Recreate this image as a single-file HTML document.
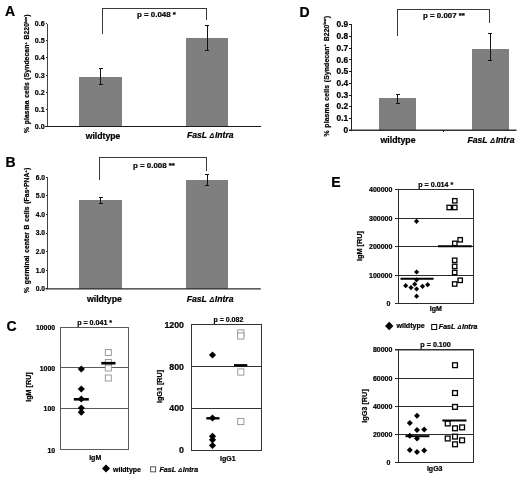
<!DOCTYPE html>
<html><head><meta charset="utf-8"><title>Figure</title>
<style>
html,body{margin:0;padding:0;background:#fff;}
text{stroke:#000;stroke-width:0.22px;}
svg{display:block;font-family:"Liberation Sans", Arial, sans-serif;will-change:transform;opacity:0.999;}
</style></head><body>
<svg width="520" height="477" viewBox="0 0 520 477">
<rect x="0" y="0" width="520" height="477" fill="#fff"/>
<text x="5" y="15.5" text-anchor="start" style="font-size:14px;font-weight:bold;" fill="#000">A</text>
<rect x="79" y="76.8" width="43" height="49.5" fill="#7f7f7f" stroke="none" stroke-width="1" shape-rendering="crispEdges"/>
<rect x="185.5" y="38" width="42.2" height="88.3" fill="#7f7f7f" stroke="none" stroke-width="1" shape-rendering="crispEdges"/>
<line x1="100.8" y1="68" x2="100.8" y2="84.2" stroke="#111" stroke-width="1" shape-rendering="crispEdges"/>
<line x1="98.8" y1="68" x2="102.8" y2="68" stroke="#111" stroke-width="1" shape-rendering="crispEdges"/>
<line x1="98.8" y1="84.2" x2="102.8" y2="84.2" stroke="#111" stroke-width="1" shape-rendering="crispEdges"/>
<line x1="207" y1="25" x2="207" y2="50.5" stroke="#111" stroke-width="1" shape-rendering="crispEdges"/>
<line x1="205" y1="25" x2="209" y2="25" stroke="#111" stroke-width="1" shape-rendering="crispEdges"/>
<line x1="205" y1="50.5" x2="209" y2="50.5" stroke="#111" stroke-width="1" shape-rendering="crispEdges"/>
<line x1="47.3" y1="23.5" x2="47.3" y2="126.8" stroke="#444" stroke-width="1" shape-rendering="crispEdges"/>
<line x1="45" y1="126.3" x2="260.8" y2="126.3" stroke="#1a1a1a" stroke-width="1" shape-rendering="crispEdges"/>
<line x1="45.6" y1="126.3" x2="47.3" y2="126.3" stroke="#1a1a1a" stroke-width="1" shape-rendering="crispEdges"/>
<text x="44.7" y="128.8" text-anchor="end" style="font-size:7.1px;font-weight:bold;" fill="#000">0.0</text>
<line x1="45.6" y1="109.19999999999999" x2="47.3" y2="109.19999999999999" stroke="#1a1a1a" stroke-width="1" shape-rendering="crispEdges"/>
<text x="44.7" y="111.69999999999999" text-anchor="end" style="font-size:7.1px;font-weight:bold;" fill="#000">0.1</text>
<line x1="45.6" y1="92.1" x2="47.3" y2="92.1" stroke="#1a1a1a" stroke-width="1" shape-rendering="crispEdges"/>
<text x="44.7" y="94.6" text-anchor="end" style="font-size:7.1px;font-weight:bold;" fill="#000">0.2</text>
<line x1="45.6" y1="75.0" x2="47.3" y2="75.0" stroke="#1a1a1a" stroke-width="1" shape-rendering="crispEdges"/>
<text x="44.7" y="77.5" text-anchor="end" style="font-size:7.1px;font-weight:bold;" fill="#000">0.3</text>
<line x1="45.6" y1="57.89999999999999" x2="47.3" y2="57.89999999999999" stroke="#1a1a1a" stroke-width="1" shape-rendering="crispEdges"/>
<text x="44.7" y="60.39999999999999" text-anchor="end" style="font-size:7.1px;font-weight:bold;" fill="#000">0.4</text>
<line x1="45.6" y1="40.8" x2="47.3" y2="40.8" stroke="#1a1a1a" stroke-width="1" shape-rendering="crispEdges"/>
<text x="44.7" y="43.3" text-anchor="end" style="font-size:7.1px;font-weight:bold;" fill="#000">0.5</text>
<line x1="45.6" y1="23.69999999999999" x2="47.3" y2="23.69999999999999" stroke="#1a1a1a" stroke-width="1" shape-rendering="crispEdges"/>
<text x="44.7" y="26.19999999999999" text-anchor="end" style="font-size:7.1px;font-weight:bold;" fill="#000">0.6</text>
<polyline points="102.3,33.5 102.3,8 206.3,8 206.3,20" fill="none" stroke="#3a3a3a" stroke-width="1" shape-rendering="crispEdges"/>
<text x="137" y="17" text-anchor="start" style="font-size:7.9px;font-weight:bold;" fill="#000">p = 0.048 *</text>
<text x="85.7" y="139" text-anchor="start" style="font-size:8.7px;font-weight:bold;" fill="#000">wildtype</text>
<text x="187" y="138.4" text-anchor="start" style="font-size:8.6px;font-weight:bold;font-style:italic;" fill="#000">FasL <tspan style="font-size:0.82em;stroke-width:0.1px" dx="0.3">Δ</tspan><tspan dx="0.6">Intra</tspan></text>
<text x="29" y="133" transform="rotate(-90 29 133)" style="font-size:6.7px;font-weight:bold;letter-spacing:0.14px;word-spacing:0.6px" fill="#000">% plasma cells (Syndecan<tspan dy="-2.2" style="font-size:4px">+</tspan><tspan dy="2.2"> B220</tspan><tspan dy="-2.4" style="font-size:3.4px">low</tspan><tspan dy="2.4">)</tspan></text>
<text x="5.5" y="167.3" text-anchor="start" style="font-size:14px;font-weight:bold;" fill="#000">B</text>
<rect x="79" y="200.4" width="43" height="88.49999999999997" fill="#7f7f7f" stroke="none" stroke-width="1" shape-rendering="crispEdges"/>
<rect x="185.5" y="180" width="42.2" height="108.89999999999998" fill="#7f7f7f" stroke="none" stroke-width="1" shape-rendering="crispEdges"/>
<line x1="100.8" y1="197" x2="100.8" y2="203.8" stroke="#111" stroke-width="1" shape-rendering="crispEdges"/>
<line x1="98.8" y1="197" x2="102.8" y2="197" stroke="#111" stroke-width="1" shape-rendering="crispEdges"/>
<line x1="98.8" y1="203.8" x2="102.8" y2="203.8" stroke="#111" stroke-width="1" shape-rendering="crispEdges"/>
<line x1="207" y1="174.5" x2="207" y2="185" stroke="#111" stroke-width="1" shape-rendering="crispEdges"/>
<line x1="205" y1="174.5" x2="209" y2="174.5" stroke="#111" stroke-width="1" shape-rendering="crispEdges"/>
<line x1="205" y1="185" x2="209" y2="185" stroke="#111" stroke-width="1" shape-rendering="crispEdges"/>
<line x1="47.3" y1="176.5" x2="47.3" y2="289.4" stroke="#444" stroke-width="1" shape-rendering="crispEdges"/>
<line x1="45.5" y1="288.9" x2="260.8" y2="288.9" stroke="#2a2a2a" stroke-width="1.4"/>
<line x1="45.6" y1="288.9" x2="47.3" y2="288.9" stroke="#1a1a1a" stroke-width="1" shape-rendering="crispEdges"/>
<text x="45" y="291.29999999999995" text-anchor="end" style="font-size:6.7px;font-weight:bold;" fill="#000">0.0</text>
<line x1="45.6" y1="270.27" x2="47.3" y2="270.27" stroke="#1a1a1a" stroke-width="1" shape-rendering="crispEdges"/>
<text x="45" y="272.66999999999996" text-anchor="end" style="font-size:6.7px;font-weight:bold;" fill="#000">1.0</text>
<line x1="45.6" y1="251.64" x2="47.3" y2="251.64" stroke="#1a1a1a" stroke-width="1" shape-rendering="crispEdges"/>
<text x="45" y="254.04" text-anchor="end" style="font-size:6.7px;font-weight:bold;" fill="#000">2.0</text>
<line x1="45.6" y1="233.01" x2="47.3" y2="233.01" stroke="#1a1a1a" stroke-width="1" shape-rendering="crispEdges"/>
<text x="45" y="235.41" text-anchor="end" style="font-size:6.7px;font-weight:bold;" fill="#000">3.0</text>
<line x1="45.6" y1="214.38" x2="47.3" y2="214.38" stroke="#1a1a1a" stroke-width="1" shape-rendering="crispEdges"/>
<text x="45" y="216.78" text-anchor="end" style="font-size:6.7px;font-weight:bold;" fill="#000">4.0</text>
<line x1="45.6" y1="195.75" x2="47.3" y2="195.75" stroke="#1a1a1a" stroke-width="1" shape-rendering="crispEdges"/>
<text x="45" y="198.15" text-anchor="end" style="font-size:6.7px;font-weight:bold;" fill="#000">5.0</text>
<line x1="45.6" y1="177.11999999999998" x2="47.3" y2="177.11999999999998" stroke="#1a1a1a" stroke-width="1" shape-rendering="crispEdges"/>
<text x="45" y="179.51999999999998" text-anchor="end" style="font-size:6.7px;font-weight:bold;" fill="#000">6.0</text>
<polyline points="99.5,179.5 99.5,157.5 206.3,157.5 206.3,170.5" fill="none" stroke="#3a3a3a" stroke-width="1" shape-rendering="crispEdges"/>
<text x="133" y="167.5" text-anchor="start" style="font-size:7.9px;font-weight:bold;" fill="#000">p = 0.008 **</text>
<text x="86.9" y="302" text-anchor="start" style="font-size:8.75px;font-weight:bold;" fill="#000">wildtype</text>
<text x="186.7" y="301.9" text-anchor="start" style="font-size:8.65px;font-weight:bold;font-style:italic;" fill="#000">FasL <tspan style="font-size:0.82em;stroke-width:0.1px" dx="0.3">Δ</tspan><tspan dx="0.6">Intra</tspan></text>
<text x="29" y="293" transform="rotate(-90 29 293)" style="font-size:6.7px;font-weight:bold;letter-spacing:0.13px;word-spacing:0.6px" fill="#000">% germinal center B cells (Fas<tspan dy="-2.2" style="font-size:4px">+</tspan><tspan dy="2.2">PNA</tspan><tspan dy="-2.2" style="font-size:4px">+</tspan><tspan dy="2.2">)</tspan></text>
<text x="6.5" y="331.3" text-anchor="start" style="font-size:14px;font-weight:bold;" fill="#000">C</text>
<rect x="60.8" y="327.4" width="68.00000000000001" height="122.30000000000001" fill="none" stroke="#5a5a5a" stroke-width="1" shape-rendering="crispEdges"/>
<line x1="60.8" y1="408.4" x2="128.8" y2="408.4" stroke="#5a5a5a" stroke-width="1" shape-rendering="crispEdges"/>
<line x1="60.8" y1="367.7" x2="128.8" y2="367.7" stroke="#5a5a5a" stroke-width="1" shape-rendering="crispEdges"/>
<text x="55.1" y="453.0" text-anchor="end" style="font-size:6.9px;font-weight:bold;" fill="#000">10</text>
<text x="55.1" y="411.29999999999995" text-anchor="end" style="font-size:6.9px;font-weight:bold;" fill="#000">100</text>
<text x="55.1" y="371.09999999999997" text-anchor="end" style="font-size:6.9px;font-weight:bold;" fill="#000">1000</text>
<text x="55.1" y="330.09999999999997" text-anchor="end" style="font-size:6.9px;font-weight:bold;" fill="#000">10000</text>
<text x="77.2" y="324.6" text-anchor="start" style="font-size:7.1px;font-weight:bold;" fill="#000">p = 0.041 *</text>
<text x="95.2" y="460.1" text-anchor="middle" style="font-size:7px;font-weight:bold;" fill="#000">IgM</text>
<text x="31.3" y="387" text-anchor="middle" style="font-size:7.2px;font-weight:bold;" fill="#000" transform="rotate(-90 31.3 387)">IgM [RU]</text>
<rect x="105.3" y="349.5" width="6" height="6" fill="#fff" stroke="#909090" stroke-width="0.9"/>
<rect x="105.3" y="359.5" width="6" height="6" fill="#fff" stroke="#909090" stroke-width="0.9"/>
<rect x="105.3" y="365.0" width="6" height="6" fill="#fff" stroke="#909090" stroke-width="0.9"/>
<rect x="105.3" y="375.0" width="6" height="6" fill="#fff" stroke="#909090" stroke-width="0.9"/>
<polygon points="81.3,365.4 84.89999999999999,369 81.3,372.6 77.7,369" fill="#000"/>
<polygon points="81.3,385.4 84.89999999999999,389 81.3,392.6 77.7,389" fill="#000"/>
<polygon points="81.3,395.4 84.89999999999999,399 81.3,402.6 77.7,399" fill="#000"/>
<polygon points="81.3,404.4 84.89999999999999,408 81.3,411.6 77.7,408" fill="#000"/>
<polygon points="81.3,408.59999999999997 84.89999999999999,412.2 81.3,415.8 77.7,412.2" fill="#000"/>
<line x1="73.8" y1="399.3" x2="88.8" y2="399.3" stroke="#000" stroke-width="2.6"/>
<line x1="101.3" y1="363.2" x2="115.5" y2="363.2" stroke="#000" stroke-width="2.6"/>
<rect x="191.7" y="324.5" width="69.60000000000002" height="125.5" fill="none" stroke="#333" stroke-width="1" shape-rendering="crispEdges"/>
<line x1="191.7" y1="408.1666666666667" x2="261.3" y2="408.1666666666667" stroke="#333" stroke-width="1" shape-rendering="crispEdges"/>
<line x1="191.7" y1="366.3333333333333" x2="261.3" y2="366.3333333333333" stroke="#333" stroke-width="1" shape-rendering="crispEdges"/>
<text x="184" y="453.2" text-anchor="end" style="font-size:8.8px;font-weight:bold;" fill="#000">0</text>
<text x="184" y="411.3666666666667" text-anchor="end" style="font-size:8.8px;font-weight:bold;" fill="#000">400</text>
<text x="184" y="369.5333333333333" text-anchor="end" style="font-size:8.8px;font-weight:bold;" fill="#000">800</text>
<text x="184" y="327.7" text-anchor="end" style="font-size:8.8px;font-weight:bold;" fill="#000">1200</text>
<text x="213.5" y="322.1" text-anchor="start" style="font-size:7.0px;font-weight:bold;" fill="#000">p = 0.082</text>
<text x="227.8" y="460.5" text-anchor="middle" style="font-size:7px;font-weight:bold;" fill="#000">IgG1</text>
<text x="161.5" y="386.5" text-anchor="middle" style="font-size:7.2px;font-weight:bold;" fill="#000" transform="rotate(-90 161.5 386.5)">IgG1 [RU]</text>
<rect x="237.70000000000002" y="329.9" width="6.2" height="6.2" fill="#fff" stroke="#909090" stroke-width="0.9"/>
<rect x="237.70000000000002" y="332.9" width="6.2" height="6.2" fill="#fff" stroke="#909090" stroke-width="0.9"/>
<rect x="237.70000000000002" y="368.9" width="6.2" height="6.2" fill="#fff" stroke="#909090" stroke-width="0.9"/>
<rect x="237.70000000000002" y="418.4" width="6.2" height="6.2" fill="#fff" stroke="#909090" stroke-width="0.9"/>
<polygon points="212.5,351.4 216.1,355 212.5,358.6 208.9,355" fill="#000"/>
<polygon points="212.5,414.4 216.1,418 212.5,421.6 208.9,418" fill="#000"/>
<polygon points="212.5,432.7 216.1,436.3 212.5,439.90000000000003 208.9,436.3" fill="#000"/>
<polygon points="212.5,436.2 216.1,439.8 212.5,443.40000000000003 208.9,439.8" fill="#000"/>
<polygon points="212.5,441.9 216.1,445.5 212.5,449.1 208.9,445.5" fill="#000"/>
<line x1="206.3" y1="418.3" x2="219.5" y2="418.3" stroke="#000" stroke-width="2.4"/>
<line x1="234" y1="365.3" x2="247.3" y2="365.3" stroke="#000" stroke-width="2.4"/>
<polygon points="106,464.5 110,468.5 106,472.5 102,468.5" fill="#000"/>
<text x="113" y="471.7" text-anchor="start" style="font-size:7.0px;font-weight:bold;" fill="#000">wildtype</text>
<rect x="150.6" y="466.8" width="5" height="5" fill="#fff" stroke="#555" stroke-width="1"/>
<text x="159.5" y="472.4" text-anchor="start" style="font-size:7.1px;font-weight:bold;font-style:italic;" fill="#000">FasL <tspan style="font-size:0.82em;stroke-width:0.1px" dx="0.3">Δ</tspan><tspan dx="0.6">Intra</tspan></text>
<text x="299.5" y="16.5" text-anchor="start" style="font-size:14px;font-weight:bold;" fill="#000">D</text>
<rect x="379" y="98.2" width="36.8" height="31.999999999999986" fill="#7f7f7f" stroke="none" stroke-width="1" shape-rendering="crispEdges"/>
<rect x="472" y="48.9" width="36.5" height="81.29999999999998" fill="#7f7f7f" stroke="none" stroke-width="1" shape-rendering="crispEdges"/>
<line x1="397.5" y1="94.2" x2="397.5" y2="103.3" stroke="#111" stroke-width="1" shape-rendering="crispEdges"/>
<line x1="395.5" y1="94.2" x2="399.5" y2="94.2" stroke="#111" stroke-width="1" shape-rendering="crispEdges"/>
<line x1="395.5" y1="103.3" x2="399.5" y2="103.3" stroke="#111" stroke-width="1" shape-rendering="crispEdges"/>
<line x1="490.2" y1="33.5" x2="490.2" y2="60.5" stroke="#111" stroke-width="1" shape-rendering="crispEdges"/>
<line x1="488.2" y1="33.5" x2="492.2" y2="33.5" stroke="#111" stroke-width="1" shape-rendering="crispEdges"/>
<line x1="488.2" y1="60.5" x2="492.2" y2="60.5" stroke="#111" stroke-width="1" shape-rendering="crispEdges"/>
<line x1="351.5" y1="24" x2="351.5" y2="130.89999999999998" stroke="#222" stroke-width="1.2" shape-rendering="crispEdges"/>
<line x1="349" y1="130.2" x2="516.5" y2="130.2" stroke="#333" stroke-width="1.5"/>
<line x1="443.8" y1="130.2" x2="443.8" y2="132.2" stroke="#1a1a1a" stroke-width="1" shape-rendering="crispEdges"/>
<line x1="349" y1="130.2" x2="351.5" y2="130.2" stroke="#1a1a1a" stroke-width="1" shape-rendering="crispEdges"/>
<text x="348.2" y="132.89999999999998" text-anchor="end" style="font-size:8.4px;font-weight:bold;" fill="#000">0</text>
<line x1="349" y1="118.46999999999998" x2="351.5" y2="118.46999999999998" stroke="#1a1a1a" stroke-width="1" shape-rendering="crispEdges"/>
<text x="348.2" y="121.16999999999999" text-anchor="end" style="font-size:8.4px;font-weight:bold;" fill="#000">0.1</text>
<line x1="349" y1="106.73999999999998" x2="351.5" y2="106.73999999999998" stroke="#1a1a1a" stroke-width="1" shape-rendering="crispEdges"/>
<text x="348.2" y="109.43999999999998" text-anchor="end" style="font-size:8.4px;font-weight:bold;" fill="#000">0.2</text>
<line x1="349" y1="95.00999999999999" x2="351.5" y2="95.00999999999999" stroke="#1a1a1a" stroke-width="1" shape-rendering="crispEdges"/>
<text x="348.2" y="97.71" text-anchor="end" style="font-size:8.4px;font-weight:bold;" fill="#000">0.3</text>
<line x1="349" y1="83.27999999999999" x2="351.5" y2="83.27999999999999" stroke="#1a1a1a" stroke-width="1" shape-rendering="crispEdges"/>
<text x="348.2" y="85.97999999999999" text-anchor="end" style="font-size:8.4px;font-weight:bold;" fill="#000">0.4</text>
<line x1="349" y1="71.54999999999998" x2="351.5" y2="71.54999999999998" stroke="#1a1a1a" stroke-width="1" shape-rendering="crispEdges"/>
<text x="348.2" y="74.24999999999999" text-anchor="end" style="font-size:8.4px;font-weight:bold;" fill="#000">0.5</text>
<line x1="349" y1="59.81999999999999" x2="351.5" y2="59.81999999999999" stroke="#1a1a1a" stroke-width="1" shape-rendering="crispEdges"/>
<text x="348.2" y="62.519999999999996" text-anchor="end" style="font-size:8.4px;font-weight:bold;" fill="#000">0.6</text>
<line x1="349" y1="48.08999999999999" x2="351.5" y2="48.08999999999999" stroke="#1a1a1a" stroke-width="1" shape-rendering="crispEdges"/>
<text x="348.2" y="50.78999999999999" text-anchor="end" style="font-size:8.4px;font-weight:bold;" fill="#000">0.7</text>
<line x1="349" y1="36.359999999999985" x2="351.5" y2="36.359999999999985" stroke="#1a1a1a" stroke-width="1" shape-rendering="crispEdges"/>
<text x="348.2" y="39.05999999999999" text-anchor="end" style="font-size:8.4px;font-weight:bold;" fill="#000">0.8</text>
<line x1="349" y1="24.62999999999998" x2="351.5" y2="24.62999999999998" stroke="#1a1a1a" stroke-width="1" shape-rendering="crispEdges"/>
<text x="348.2" y="27.32999999999998" text-anchor="end" style="font-size:8.4px;font-weight:bold;" fill="#000">0.9</text>
<polyline points="397.5,36.3 397.5,9.4 489.1,9.4 489.1,22.6" fill="none" stroke="#3a3a3a" stroke-width="1" shape-rendering="crispEdges"/>
<text x="423" y="18" text-anchor="start" style="font-size:7.9px;font-weight:bold;" fill="#000">p = 0.007 **</text>
<text x="380.5" y="143.1" text-anchor="start" style="font-size:8.75px;font-weight:bold;" fill="#000">wildtype</text>
<text x="467.4" y="143" text-anchor="start" style="font-size:8.7px;font-weight:bold;font-style:italic;" fill="#000">FasL <tspan style="font-size:0.82em;stroke-width:0.1px" dx="0.3">Δ</tspan><tspan dx="0.6">Intra</tspan></text>
<text x="328.6" y="136.5" transform="rotate(-90 328.6 136.5)" style="font-size:6.8px;font-weight:bold;letter-spacing:0.15px;word-spacing:0.6px" fill="#000">% plasma cells (Syndecan<tspan dy="-2.2" style="font-size:4px">+</tspan><tspan dy="2.2"> B220</tspan><tspan dy="-2.4" style="font-size:3.4px">low</tspan><tspan dy="2.4">)</tspan></text>
<text x="331.3" y="187.4" text-anchor="start" style="font-size:14px;font-weight:bold;" fill="#000">E</text>
<rect x="398.5" y="189.5" width="75.0" height="114.0" fill="none" stroke="#2a2a2a" stroke-width="1" shape-rendering="crispEdges"/>
<line x1="395" y1="303.5" x2="398.5" y2="303.5" stroke="#2a2a2a" stroke-width="1" shape-rendering="crispEdges"/>
<text x="390.3" y="305.7" text-anchor="end" style="font-size:7px;font-weight:bold;" fill="#000">0</text>
<line x1="398.5" y1="275.5" x2="473.5" y2="275.5" stroke="#2a2a2a" stroke-width="1" shape-rendering="crispEdges"/>
<line x1="395" y1="275.5" x2="398.5" y2="275.5" stroke="#2a2a2a" stroke-width="1" shape-rendering="crispEdges"/>
<text x="392.4" y="277.7" text-anchor="end" style="font-size:7px;font-weight:bold;" fill="#000">100000</text>
<line x1="398.5" y1="246.5" x2="473.5" y2="246.5" stroke="#2a2a2a" stroke-width="1" shape-rendering="crispEdges"/>
<line x1="395" y1="246.5" x2="398.5" y2="246.5" stroke="#2a2a2a" stroke-width="1" shape-rendering="crispEdges"/>
<text x="392.4" y="248.7" text-anchor="end" style="font-size:7px;font-weight:bold;" fill="#000">200000</text>
<line x1="398.5" y1="218.5" x2="473.5" y2="218.5" stroke="#2a2a2a" stroke-width="1" shape-rendering="crispEdges"/>
<line x1="395" y1="218.5" x2="398.5" y2="218.5" stroke="#2a2a2a" stroke-width="1" shape-rendering="crispEdges"/>
<text x="392.4" y="220.7" text-anchor="end" style="font-size:7px;font-weight:bold;" fill="#000">300000</text>
<line x1="395" y1="189.5" x2="398.5" y2="189.5" stroke="#2a2a2a" stroke-width="1" shape-rendering="crispEdges"/>
<text x="392.4" y="191.7" text-anchor="end" style="font-size:7px;font-weight:bold;" fill="#000">400000</text>
<text x="418.3" y="187" text-anchor="start" style="font-size:7.1px;font-weight:bold;" fill="#000">p = 0.014 *</text>
<text x="435.8" y="311.3" text-anchor="middle" style="font-size:7px;font-weight:bold;" fill="#000">IgM</text>
<text x="362" y="246" text-anchor="middle" style="font-size:7.3px;font-weight:bold;" fill="#000" transform="rotate(-90 362 246)">IgM [RU]</text>
<rect x="452.6" y="198.60000000000002" width="4.4" height="4.4" fill="#fff" stroke="#000" stroke-width="1.3"/>
<rect x="447.0" y="205.3" width="4.4" height="4.4" fill="#fff" stroke="#000" stroke-width="1.3"/>
<rect x="452.6" y="205.3" width="4.4" height="4.4" fill="#fff" stroke="#000" stroke-width="1.3"/>
<rect x="458.0" y="237.60000000000002" width="4.4" height="4.4" fill="#fff" stroke="#000" stroke-width="1.3"/>
<rect x="452.6" y="241.20000000000002" width="4.4" height="4.4" fill="#fff" stroke="#000" stroke-width="1.3"/>
<rect x="452.5" y="258.1" width="4.4" height="4.4" fill="#fff" stroke="#000" stroke-width="1.3"/>
<rect x="452.5" y="264.2" width="4.4" height="4.4" fill="#fff" stroke="#000" stroke-width="1.3"/>
<rect x="452.5" y="270.3" width="4.4" height="4.4" fill="#fff" stroke="#000" stroke-width="1.3"/>
<rect x="458.0" y="278.1" width="4.4" height="4.4" fill="#fff" stroke="#000" stroke-width="1.3"/>
<rect x="452.5" y="281.8" width="4.4" height="4.4" fill="#fff" stroke="#000" stroke-width="1.3"/>
<polygon points="416.5,218.70000000000002 419.1,221.3 416.5,223.9 413.9,221.3" fill="#000"/>
<polygon points="416.6,269.4 419.20000000000005,272 416.6,274.6 414.0,272" fill="#000"/>
<polygon points="416.6,277.2 419.20000000000005,279.8 416.6,282.40000000000003 414.0,279.8" fill="#000"/>
<polygon points="427.7,282.09999999999997 430.3,284.7 427.7,287.3 425.09999999999997,284.7" fill="#000"/>
<polygon points="414.7,281.59999999999997 417.3,284.2 414.7,286.8 412.09999999999997,284.2" fill="#000"/>
<polygon points="405.7,283.09999999999997 408.3,285.7 405.7,288.3 403.09999999999997,285.7" fill="#000"/>
<polygon points="422.5,283.7 425.1,286.3 422.5,288.90000000000003 419.9,286.3" fill="#000"/>
<polygon points="411,285.0 413.6,287.6 411,290.20000000000005 408.4,287.6" fill="#000"/>
<polygon points="416.6,286.4 419.20000000000005,289 416.6,291.6 414.0,289" fill="#000"/>
<polygon points="416.6,293.59999999999997 419.20000000000005,296.2 416.6,298.8 414.0,296.2" fill="#000"/>
<line x1="400.5" y1="278.8" x2="433.6" y2="278.8" stroke="#000" stroke-width="2"/>
<line x1="438" y1="246.2" x2="471.7" y2="246.2" stroke="#000" stroke-width="2"/>
<polygon points="389.2,321.8 393.4,326 389.2,330.2 385.0,326" fill="#000"/>
<text x="396.4" y="328.4" text-anchor="start" style="font-size:7.1px;font-weight:bold;" fill="#000">wildtype</text>
<rect x="431.7" y="324.5" width="5" height="5" fill="#fff" stroke="#000" stroke-width="1"/>
<text x="438.8" y="329" text-anchor="start" style="font-size:7.1px;font-weight:bold;font-style:italic;" fill="#000">FasL <tspan style="font-size:0.82em;stroke-width:0.1px" dx="0.3">Δ</tspan><tspan dx="0.6">Intra</tspan></text>
<rect x="398.5" y="349.9" width="75.0" height="112.60000000000002" fill="none" stroke="#2a2a2a" stroke-width="1" shape-rendering="crispEdges"/>
<line x1="395.0" y1="349.9" x2="474.0" y2="349.9" stroke="#333" stroke-width="1.3"/>
<line x1="395" y1="462.5" x2="398.5" y2="462.5" stroke="#2a2a2a" stroke-width="1" shape-rendering="crispEdges"/>
<text x="390.3" y="464.8" text-anchor="end" style="font-size:7px;font-weight:bold;" fill="#000">0</text>
<line x1="398.5" y1="434.5" x2="473.5" y2="434.5" stroke="#2a2a2a" stroke-width="1" shape-rendering="crispEdges"/>
<line x1="395" y1="434.5" x2="398.5" y2="434.5" stroke="#2a2a2a" stroke-width="1" shape-rendering="crispEdges"/>
<text x="392.4" y="436.8" text-anchor="end" style="font-size:7px;font-weight:bold;" fill="#000">20000</text>
<line x1="398.5" y1="406.5" x2="473.5" y2="406.5" stroke="#2a2a2a" stroke-width="1" shape-rendering="crispEdges"/>
<line x1="395" y1="406.5" x2="398.5" y2="406.5" stroke="#2a2a2a" stroke-width="1" shape-rendering="crispEdges"/>
<text x="392.4" y="408.8" text-anchor="end" style="font-size:7px;font-weight:bold;" fill="#000">40000</text>
<line x1="398.5" y1="378.5" x2="473.5" y2="378.5" stroke="#2a2a2a" stroke-width="1" shape-rendering="crispEdges"/>
<line x1="395" y1="378.5" x2="398.5" y2="378.5" stroke="#2a2a2a" stroke-width="1" shape-rendering="crispEdges"/>
<text x="392.4" y="380.8" text-anchor="end" style="font-size:7px;font-weight:bold;" fill="#000">60000</text>
<line x1="395" y1="349.9" x2="398.5" y2="349.9" stroke="#2a2a2a" stroke-width="1" shape-rendering="crispEdges"/>
<text x="392.4" y="352.2" text-anchor="end" style="font-size:7px;font-weight:bold;" fill="#000">80000</text>
<text x="420.3" y="347.1" text-anchor="start" style="font-size:7.2px;font-weight:bold;" fill="#000">p = 0.100</text>
<text x="434.7" y="471.2" text-anchor="middle" style="font-size:7px;font-weight:bold;" fill="#000">IgG3</text>
<text x="367" y="406" text-anchor="middle" style="font-size:7.3px;font-weight:bold;" fill="#000" transform="rotate(-90 367 406)">IgG3 [RU]</text>
<rect x="452.6" y="362.8" width="4.8" height="4.8" fill="#fff" stroke="#000" stroke-width="1.3"/>
<rect x="452.6" y="390.6" width="4.8" height="4.8" fill="#fff" stroke="#000" stroke-width="1.3"/>
<rect x="452.6" y="404.5" width="4.8" height="4.8" fill="#fff" stroke="#000" stroke-width="1.3"/>
<rect x="445.3" y="421.1" width="4.8" height="4.8" fill="#fff" stroke="#000" stroke-width="1.3"/>
<rect x="459.70000000000005" y="425.0" width="4.8" height="4.8" fill="#fff" stroke="#000" stroke-width="1.3"/>
<rect x="452.6" y="425.90000000000003" width="4.8" height="4.8" fill="#fff" stroke="#000" stroke-width="1.3"/>
<rect x="452.6" y="434.20000000000005" width="4.8" height="4.8" fill="#fff" stroke="#000" stroke-width="1.3"/>
<rect x="445.3" y="436.1" width="4.8" height="4.8" fill="#fff" stroke="#000" stroke-width="1.3"/>
<rect x="459.70000000000005" y="437.90000000000003" width="4.8" height="4.8" fill="#fff" stroke="#000" stroke-width="1.3"/>
<rect x="452.6" y="441.90000000000003" width="4.8" height="4.8" fill="#fff" stroke="#000" stroke-width="1.3"/>
<polygon points="417,412.8 420,415.8 417,418.8 414,415.8" fill="#000"/>
<polygon points="409.8,420 412.8,423 409.8,426 406.8,423" fill="#000"/>
<polygon points="417,426.9 420,429.9 417,432.9 414,429.9" fill="#000"/>
<polygon points="424.2,426.5 427.2,429.5 424.2,432.5 421.2,429.5" fill="#000"/>
<polygon points="409.8,432.7 412.8,435.7 409.8,438.7 406.8,435.7" fill="#000"/>
<polygon points="417,435.5 420,438.5 417,441.5 414,438.5" fill="#000"/>
<polygon points="409.8,446.9 412.8,449.9 409.8,452.9 406.8,449.9" fill="#000"/>
<polygon points="417,449 420,452 417,455 414,452" fill="#000"/>
<polygon points="424.2,447.5 427.2,450.5 424.2,453.5 421.2,450.5" fill="#000"/>
<line x1="405.4" y1="436.2" x2="429.4" y2="436.2" stroke="#000" stroke-width="2"/>
<line x1="442.3" y1="420.5" x2="466.5" y2="420.5" stroke="#000" stroke-width="2"/>
</svg>
</body></html>
